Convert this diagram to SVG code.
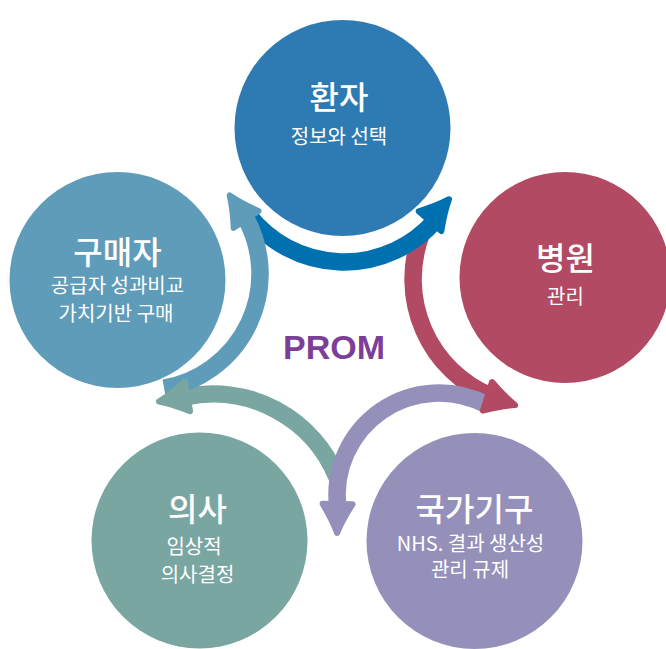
<svg xmlns="http://www.w3.org/2000/svg" xmlns:xlink="http://www.w3.org/1999/xlink" width="666" height="649" viewBox="0 0 666 649">
<style>
.t{font-family:"Noto Sans CJK KR","Noto Sans",sans-serif;fill:#ffffff;text-anchor:middle}
.h{font-size:32px;font-weight:500}
.s{font-size:20px;font-weight:400}
.band{fill:none;stroke-width:17.5;stroke-linecap:butt}
.hd{stroke-width:6;stroke-linejoin:round}
.prom{font-family:"Liberation Sans",Arial,sans-serif;font-weight:700;font-size:34px;fill:#7c3f98;text-anchor:middle}
</style>
<defs>
<path id="head" d="M-3,0 Q-16,-5 -32,-15 L-32,15 Q-16,5 -3,0Z"/>
</defs>
<g id="node-patient">
<circle cx="342.5" cy="128" r="108" fill="#2e7bb3"/>
<text class="t h" x="339" y="108.5">환자</text>
<text class="t s" x="339" y="143.5">정보와 선택</text>
</g>
<g id="node-buyer">
<circle cx="117.5" cy="280" r="108" fill="#5f9cba"/>
<text class="t h" x="117.5" y="263.5">구매자</text>
<text class="t s" x="117.5" y="292.5">공급자 성과비교</text>
<text class="t s" x="116" y="320.5">가치기반 구매</text>
</g>
<g id="node-hospital">
<circle cx="565" cy="277.5" r="105.5" fill="#b34a64"/>
<text class="t h" x="565.5" y="270">병원</text>
<text class="t s" x="565.5" y="303.5">관리</text>
</g>
<g id="node-doctor">
<circle cx="199.5" cy="540.5" r="108" fill="#7aa6a1"/>
<text class="t h" x="197.5" y="521">의사</text>
<text class="t s" x="194" y="554">임상적</text>
<text class="t s" x="197.5" y="582">의사결정</text>
</g>
<g id="node-agency">
<circle cx="474.5" cy="541" r="108" fill="#9490b9"/>
<text class="t h" x="474.5" y="520.5">국가기구</text>
<text class="t s" x="470.5" y="550.5">NHS. 결과 생산성</text>
<text class="t s" x="470" y="577">관리 규제</text>
</g>
<g id="connectors">
<path class="band" stroke="#b34a64" d="M420.7,235.6 A127,127 0 0 0 490.4,395.9"/>
<path class="band" stroke="#0071b0" d="M248.7,215.5 A121,121 0 0 0 435.3,220.4"/>
<path class="band" stroke="#7aa6a1" d="M337.2,477.8 A134,134 0 0 0 185.1,396.9"/>
<path class="band" stroke="#9490b9" d="M486.9,404.9 A102,102 0 0 0 337.8,507.4"/>
<path class="band" stroke="#5f9cba" d="M164.1,388.2 A116,116 0 0 0 244.5,216"/>
<use xlink:href="#head" class="hd" fill="#0071b0" stroke="#0071b0" transform="translate(451,197) rotate(-49)"/>
<use xlink:href="#head" class="hd" fill="#b34a64" stroke="#b34a64" transform="translate(518,406) rotate(17.5)"/>
<use xlink:href="#head" class="hd" fill="#9490b9" stroke="#9490b9" transform="translate(337,536) rotate(91)"/>
<use xlink:href="#head" class="hd" fill="#7aa6a1" stroke="#7aa6a1" transform="translate(156,402) rotate(170)"/>
<use xlink:href="#head" class="hd" fill="#5f9cba" stroke="#5f9cba" transform="translate(228,193) rotate(-124.4)"/>
</g>
<g id="label-prom">
<text class="prom" x="334" y="359">PROM</text>
</g>
</svg>
